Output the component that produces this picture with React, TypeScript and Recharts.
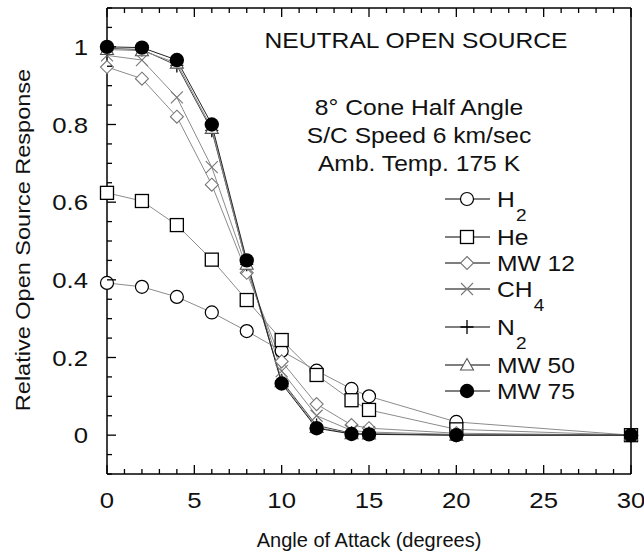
import { Legend, Line, LineChart, XAxis, YAxis } from "recharts";

// angle of attack, degrees
const ANGLES = [0, 2, 4, 6, 8, 10, 12, 14, 15, 20, 30];

// relative open source response per species
const H2 = [0.392, 0.382, 0.356, 0.316, 0.268, 0.217, 0.166, 0.119, 0.1, 0.034, 0];
const HE = [0.624, 0.603, 0.541, 0.452, 0.348, 0.245, 0.155, 0.09, 0.065, 0.015, 0];
const MW12 = [0.948, 0.918, 0.82, 0.645, 0.418, 0.19, 0.08, 0.026, 0.018, 0.005, 0];
const CH4 = [0.978, 0.966, 0.87, 0.69, 0.43, 0.165, 0.05, 0.012, 0.008, 0.002, 0];
const N2 = [0.996, 0.993, 0.952, 0.785, 0.44, 0.14, 0.025, 0.005, 0.004, 0, 0];
const MW50 = [0.993, 0.99, 0.958, 0.79, 0.44, 0.138, 0.02, 0.004, 0.003, 0, 0];
const MW75 = [1.0, 0.998, 0.966, 0.8, 0.45, 0.133, 0.018, 0.003, 0.002, 0, 0];

const X_TICKS = [0, 1, 2, 3, 4, 5, 6, 7, 8, 9, 10, 11, 12, 13, 14, 15, 16, 17, 18, 19, 20, 21, 22, 23, 24, 25, 26, 27, 28, 29, 30];
const X_LABELS = [0, 5, 10, 15, 20, 25, 30];
const Y_TICKS = [-0.1, -0.05, 0, 0.05, 0.1, 0.15, 0.2, 0.25, 0.3, 0.35, 0.4, 0.45, 0.5, 0.55, 0.6, 0.65, 0.7, 0.75, 0.8, 0.85, 0.9, 0.95, 1, 1.05, 1.1];
const Y_LABELS = [0, 0.2, 0.4, 0.6, 0.8, 1];

const NOTES = ["8\u00b0 Cone Half Angle", "S/C Speed 6 km/sec", "Amb. Temp. 175 K"];

type MarkerKind = "circle" | "square" | "diamond" | "cross" | "plus" | "triangle" | "dot";

const SERIES: { key: string; name: string; sub?: string; values: number[]; marker: MarkerKind; stroke: string }[] = [
  { key: "h2", name: "H", sub: "2", values: H2, marker: "circle", stroke: "#8c8c8c" },
  { key: "he", name: "He", values: HE, marker: "square", stroke: "#8c8c8c" },
  { key: "mw12", name: "MW 12", values: MW12, marker: "diamond", stroke: "#8c8c8c" },
  { key: "ch4", name: "CH", sub: "4", values: CH4, marker: "cross", stroke: "#8c8c8c" },
  { key: "n2", name: "N", sub: "2", values: N2, marker: "plus", stroke: "#444" },
  { key: "mw50", name: "MW 50", values: MW50, marker: "triangle", stroke: "#8c8c8c" },
  { key: "mw75", name: "MW 75", values: MW75, marker: "dot", stroke: "#222" },
];

const data = ANGLES.map((angle, i) => {
  const row: Record<string, number> = { angle };
  SERIES.forEach((s) => (row[s.key] = s.values[i]));
  return row;
});

const FONT = "'Liberation Sans', Arial, Helvetica, sans-serif";
const STRETCH = 1.12;

function Marker({ kind, cx, cy }: { kind: MarkerKind; cx: number; cy: number }) {
  switch (kind) {
    case "circle":
      return <circle cx={cx} cy={cy} r={6.5} fill="#fff" stroke="#000" strokeWidth={1.2} />;
    case "square":
      return <rect x={cx - 6.5} y={cy - 6.5} width={13} height={13} fill="#fff" stroke="#000" strokeWidth={1.3} />;
    case "diamond":
      return (
        <polygon
          points={`${cx},${cy - 6.5} ${cx + 6.5},${cy} ${cx},${cy + 6.5} ${cx - 6.5},${cy}`}
          fill="#fff"
          stroke="#777"
          strokeWidth={1.1}
        />
      );
    case "cross":
      return (
        <path d={`M${cx - 6},${cy - 6}L${cx + 6},${cy + 6}M${cx - 6},${cy + 6}L${cx + 6},${cy - 6}`} stroke="#777" strokeWidth={1.1} />
      );
    case "plus":
      return <path d={`M${cx - 6.5},${cy}L${cx + 6.5},${cy}M${cx},${cy - 7}L${cx},${cy + 7}`} stroke="#000" strokeWidth={1.3} />;
    case "triangle":
      return (
        <polygon
          points={`${cx},${cy - 6.5} ${cx + 6.5},${cy + 5} ${cx - 6.5},${cy + 5}`}
          fill="#fff"
          stroke="#555"
          strokeWidth={1.1}
        />
      );
    default:
      return <circle cx={cx} cy={cy} r={7.2} fill="#000" />;
  }
}

function StretchText({ x, y, anchor = "middle", size = 21, stretch = STRETCH, children }: any) {
  return (
    <text
      transform={`translate(${x} ${y}) scale(${stretch} 1)`}
      textAnchor={anchor}
      fontSize={size}
      fontFamily={FONT}
      fill="#111"
    >
      {children}
    </text>
  );
}

const isLabel = (list: number[], v: number) => list.some((l) => Math.abs(l - v) < 1e-6);

function BottomTick({ x, y, payload }: any) {
  const major = isLabel(X_LABELS, payload.value);
  return (
    <g>
      <line x1={x} y1={y} x2={x} y2={y - (major ? 9 : 5)} stroke="#000" strokeWidth={1.3} />
      {major && (
        <StretchText x={x} y={y + 34} size={23}>
          {payload.value}
        </StretchText>
      )}
    </g>
  );
}

function TopTick({ x, y, payload }: any) {
  const major = isLabel(X_LABELS, payload.value);
  return <line x1={x} y1={y} x2={x} y2={y + (major ? 9 : 5)} stroke="#000" strokeWidth={1.3} />;
}

function LeftTick({ x, y, payload }: any) {
  const major = isLabel(Y_LABELS, payload.value);
  return (
    <g>
      <line x1={x} y1={y} x2={x + (major ? 9 : 5)} y2={y} stroke="#000" strokeWidth={1.3} />
      {major && (
        <StretchText x={x - 19} y={y + 8} anchor="end" size={23}>
          {String(Math.round(payload.value * 10) / 10)}
        </StretchText>
      )}
    </g>
  );
}

function RightTick({ x, y, payload }: any) {
  const major = isLabel(Y_LABELS, payload.value);
  return <line x1={x} y1={y} x2={x - (major ? 9 : 5)} y2={y} stroke="#000" strokeWidth={1.3} />;
}

function LegendBox() {
  let rowY = 19;
  return (
    <svg width={200} height={230} style={{ overflow: "visible" }}>
      {SERIES.map((s, i) => {
        if (i > 0) rowY += 26 + (SERIES[i - 1].sub ? 12 : 0);
        const y = rowY;
        return (
          <g key={s.key}>
            <line x1={5} y1={y} x2={50} y2={y} stroke="#000" strokeWidth={1.2} />
            <Marker kind={s.marker} cx={27} cy={y} />
            <StretchText x={57} y={y + 8} anchor="start" size={22}>
              {s.name}
              {s.sub && (
                <tspan fontSize={17} dy={14} dx={1}>
                  {s.sub}
                </tspan>
              )}
            </StretchText>
          </g>
        );
      })}
    </svg>
  );
}

export default function App() {
  const axisLine = { stroke: "#000", strokeWidth: 1.5 };
  return (
    <div style={{ position: "absolute", left: 0, top: 0, width: 644, height: 559, background: "#fff" }}>
      <LineChart width={644} height={559} data={data} margin={{ top: 0, right: 0, bottom: 0, left: 0 }}>
        <XAxis
          dataKey="angle"
          type="number"
          domain={[0, 30]}
          ticks={X_TICKS}
          interval={0}
          height={85}
          tickSize={0}
          tickMargin={0}
          tickLine={false}
          axisLine={axisLine}
          tick={BottomTick}
        />
        <XAxis
          xAxisId="top"
          orientation="top"
          dataKey="angle"
          type="number"
          domain={[0, 30]}
          ticks={X_TICKS}
          interval={0}
          height={8}
          tickSize={0}
          tickMargin={0}
          tickLine={false}
          axisLine={axisLine}
          tick={TopTick}
        />
        <YAxis
          type="number"
          domain={[-0.1, 1.1]}
          ticks={Y_TICKS}
          interval={0}
          width={107}
          tickSize={0}
          tickMargin={0}
          tickLine={false}
          axisLine={axisLine}
          tick={LeftTick}
        />
        <YAxis
          yAxisId="right"
          orientation="right"
          type="number"
          domain={[-0.1, 1.1]}
          ticks={Y_TICKS}
          interval={0}
          width={13}
          tickSize={0}
          tickMargin={0}
          tickLine={false}
          axisLine={axisLine}
          tick={RightTick}
        />
        {SERIES.map((s) => (
          <Line
            key={s.key}
            dataKey={s.key}
            stroke={s.stroke}
            strokeWidth={1}
            isAnimationActive={false}
            dot={(p: any) => (
              <g key={`${s.key}-${p.index}`}>
                <Marker kind={s.marker} cx={p.cx} cy={p.cy} />
              </g>
            )}
            activeDot={false}
          />
        ))}
        <Legend
          layout="vertical"
          align="center"
          verticalAlign="middle"
          wrapperStyle={{ left: 440, top: 180, width: 200, height: 230 }}
          content={() => <LegendBox />}
        />
      </LineChart>
      <svg width={644} height={559} style={{ position: "absolute", left: 0, top: 0, pointerEvents: "none" }}>
        <StretchText x={416} y={48} size={22}>
          NEUTRAL OPEN SOURCE
        </StretchText>
        {NOTES.map((t, i) => (
          <StretchText key={t} x={419} y={115 + i * 28} size={22}>
            {t}
          </StretchText>
        ))}
        <StretchText x={369} y={547} size={20} stretch={1}>
          Angle of Attack (degrees)
        </StretchText>
        <g transform="translate(30 240) rotate(-90)">
          <StretchText x={0} y={0} size={21}>
            Relative Open Source Response
          </StretchText>
        </g>
      </svg>
    </div>
  );
}
